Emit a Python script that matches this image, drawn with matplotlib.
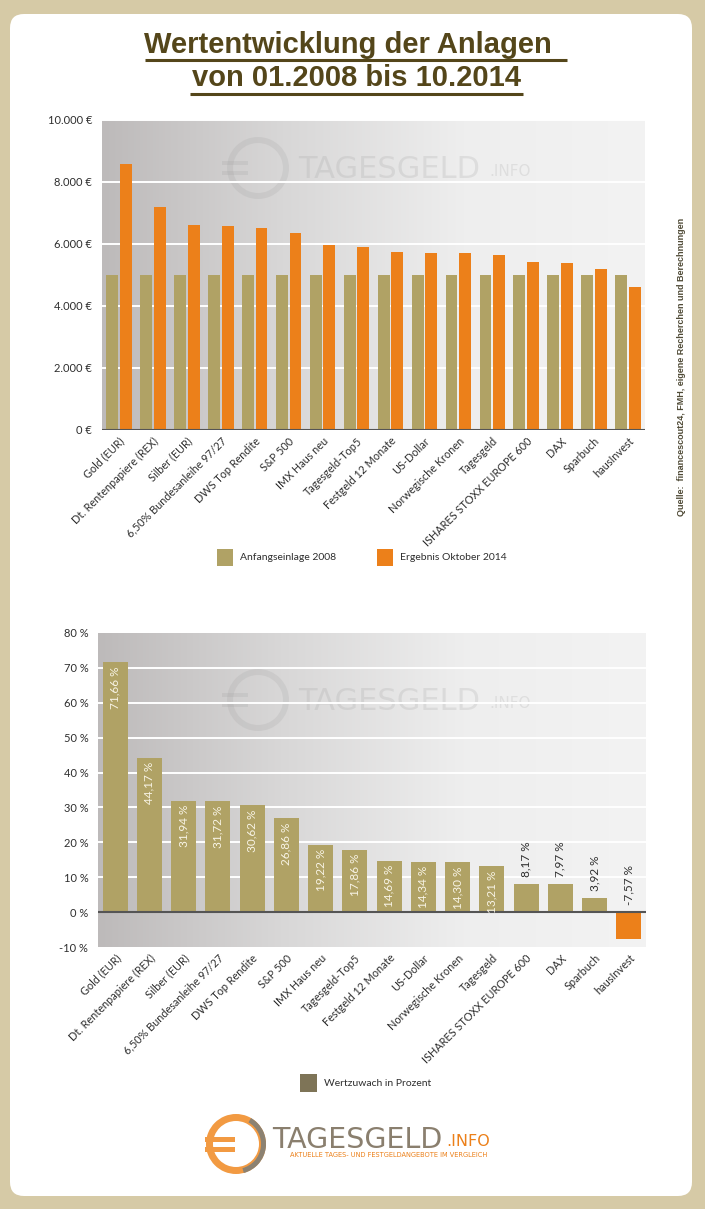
import matplotlib
matplotlib.use("Agg")
import matplotlib.pyplot as plt
import numpy as np
from matplotlib.patches import FancyBboxPatch, Rectangle, Wedge

# ---- data ----
categories = [
    "Gold (EUR)", "Dt. Rentenpapiere (REX)", "Silber (EUR)",
    "6,50% Bundesanleihe 97/27", "DWS Top Rendite", "S&P 500",
    "IMX Haus neu", "Tagesgeld-Top5", "Festgeld 12 Monate", "US-Dollar",
    "Norwegische Kronen", "Tagesgeld", "ISHARES STOXX EUROPE 600", "DAX",
    "Sparbuch", "hausInvest",
]
start_2008 = [5000] * 16
result_2014 = [8583, 7209, 6597, 6586, 6531, 6343, 5961, 5893,
               5735, 5717, 5715, 5661, 5409, 5399, 5196, 4622]
gain_pct = [71.66, 44.17, 31.94, 31.72, 30.62, 26.86, 19.22, 17.86,
            14.69, 14.34, 14.30, 13.21, 8.17, 7.97, 3.92, -7.57]

top_ticks = [0, 2000, 4000, 6000, 8000, 10000]
top_ticklabels = ["0 €", "2.000 €", "4.000 €", "6.000 €", "8.000 €", "10.000 €"]
bot_ticks = [-10, 0, 10, 20, 30, 40, 50, 60, 70, 80]
bot_ticklabels = ["%d %%" % t for t in bot_ticks]

# ---- style ----
BEIGE = "#b0a265"
ORANGE = "#ec801a"
BORDER = "#d6caa6"
TITLE_C = "#54461a"
TXT = "#2e2e2e"
SANS = ["Lato", "DejaVu Sans"]

W, H = 705, 1209
fig = plt.figure(figsize=(W / 100, H / 100), dpi=100)
fig.patch.set_facecolor(BORDER)

# pixel-space background layer
bg = fig.add_axes([0, 0, 1, 1], zorder=-5)
bg.set_xlim(0, W)
bg.set_ylim(H, 0)
bg.axis("off")
bg.add_patch(FancyBboxPatch((10, 14), 682, 1182,
                            boxstyle="round,pad=0,rounding_size=14",
                            fc="white", ec="none"))


def px_axes(left, top, right, bottom):
    return fig.add_axes([left / W, 1 - bottom / H, (right - left) / W, (bottom - top) / H])


def gradient(ax):
    g = np.linspace(0, 1, 256).reshape(1, -1)
    cmap = matplotlib.colors.LinearSegmentedColormap.from_list(
        "bgg", ["#bdbaba", "#d8d7d7", "#eeeeee", "#f3f3f3"])
    ax.imshow(g, extent=[0, 1, 0, 1], transform=ax.transAxes, aspect="auto",
              cmap=cmap, zorder=0, interpolation="bicubic")


def watermark(ax, cx, cy):
    t = bg.transData
    ax.add_patch(Wedge((cx, cy), 31, 0, 360, width=6, fc="#9a9a9a", ec="none",
                       alpha=0.18, transform=t, zorder=1, clip_on=False))
    for dy in (-5, 5):
        ax.add_patch(Rectangle((cx - 36, cy + dy - 2), 26, 4, fc="#9a9a9a", alpha=0.18,
                               transform=t, zorder=1, clip_on=False))
    ax.text(cx + 40, cy + 1, "TAGESGELD", transform=t, fontsize=22, color="#9a9a9a",
            alpha=0.2, va="center", ha="left", zorder=1, family="DejaVu Sans")
    ax.text(cx + 231, cy + 4, ".INFO", transform=t, fontsize=11, color="#9a9a9a",
            alpha=0.2, va="center", ha="left", zorder=1, family="DejaVu Sans")


def style_axes(ax):
    for s in ax.spines.values():
        s.set_visible(False)
    ax.tick_params(length=0)
    ax.set_xlim(-0.5, len(categories) - 0.5)
    ax.set_xticks(np.arange(len(categories)))
    ax.set_xticklabels(categories, rotation=45, ha="right", rotation_mode="anchor",
                       fontsize=7.8, color=TXT, family=SANS)
    for lab in ax.get_yticklabels():
        lab.set_family(SANS)
    ax.tick_params(axis="y", pad=7, labelsize=8, labelcolor=TXT)
    ax.tick_params(axis="x", pad=4)


x = np.arange(len(categories))

# ---- top chart ----
ax1 = px_axes(102, 120, 645, 430)
gradient(ax1)
watermark(ax1, 258, 168)
ax1.set_ylim(0, 10000)
ax1.set_yticks(top_ticks)
ax1.set_yticklabels(top_ticklabels)
for t in top_ticks[1:]:
    ax1.axhline(t, color="white", lw=1.4, zorder=1.5)
ax1.bar(x - 0.2, start_2008, width=0.35, color=BEIGE, zorder=2)
ax1.bar(x + 0.2, result_2014, width=0.35, color=ORANGE, zorder=2)
ax1.axhline(0, color="#555555", lw=1.5, zorder=3)
style_axes(ax1)

# ---- bottom chart ----
ax2 = px_axes(98, 633, 646, 947)
gradient(ax2)
watermark(ax2, 258, 700)
ax2.set_ylim(-10, 80)
ax2.set_yticks(bot_ticks)
ax2.set_yticklabels(bot_ticklabels)
for t in bot_ticks[2:-1]:
    ax2.axhline(t, color="white", lw=1.4, zorder=1.5)
colors = [BEIGE if v >= 0 else ORANGE for v in gain_pct]
ax2.bar(x, gain_pct, width=0.73, color=colors, zorder=2)
ax2.axhline(0, color="#555555", lw=1.5, zorder=3)
style_axes(ax2)

for xi, v in zip(x, gain_pct):
    lab = ("%.2f %%" % v).replace(".", ",")
    if v > 10:
        ax2.annotate(lab, (xi, v), xytext=(0, -3), textcoords="offset points",
                     rotation=90, ha="center", va="top", color="#f8f4e6",
                     fontsize=8.5, family=SANS, zorder=4)
    else:
        ax2.annotate(lab, (xi, max(v, 0)), xytext=(0, 5), textcoords="offset points",
                     rotation=90, ha="center", va="bottom", color=TXT,
                     fontsize=8.5, family=SANS, zorder=4)

# ---- overlay: title, legends, source, logo ----
fg = fig.add_axes([0, 0, 1, 1], zorder=10)
fg.set_xlim(0, W)
fg.set_ylim(H, 0)
fg.axis("off")
fg.patch.set_alpha(0)

tfam = ["Liberation Sans Narrow", "Liberation Sans"]
fg.text(352, 45, "Wertentwicklung der Anlagen ", ha="center", va="center",
        fontsize=21, fontweight="bold", color=TITLE_C, family=tfam)
fg.text(356, 78, "von 01.2008 bis 10.2014", ha="center", va="center",
        fontsize=21, fontweight="bold", color=TITLE_C, family=tfam)
fg.plot([145, 567], [60, 60], color=TITLE_C, lw=2.2, solid_capstyle="butt")
fg.plot([190, 523], [94, 94], color=TITLE_C, lw=2.2, solid_capstyle="butt")

# legend top
fg.add_patch(Rectangle((217, 549), 16, 17, fc=BEIGE, ec="none"))
fg.text(240, 558, "Anfangseinlage 2008", va="center", fontsize=7.5, color=TXT, family=SANS)
fg.add_patch(Rectangle((377, 549), 16, 17, fc=ORANGE, ec="none"))
fg.text(400, 558, "Ergebnis Oktober 2014", va="center", fontsize=7.5, color=TXT, family=SANS)

# legend bottom
fg.add_patch(Rectangle((300, 1074), 17, 18, fc="#7e7457", ec="none"))
fg.text(324, 1083, "Wertzuwach in Prozent", va="center", fontsize=7.5, color=TXT, family=SANS)

# source
fg.text(682, 367, "Quelle:  financescout24, FMH, eigene Recherchen und Berechnungen",
        rotation=90, ha="center", va="center", fontsize=6.5, fontweight="bold",
        color="#4f4a36", family=["Liberation Sans", "DejaVu Sans"])

# logo
fg.add_patch(Wedge((236, 1144), 30, 0, 360, width=7, fc="#f29a42", ec="none"))
fg.add_patch(Wedge((236, 1144), 30, -60, 75, width=5, fc="#8c8272", ec="none"))
for dy in (-5, 5):
    fg.add_patch(Rectangle((205, 1144 + dy - 2.5), 30, 5, fc="#f29a42", ec="none"))
fg.text(272, 1140, "TAGESGELD", ha="left", va="center", fontsize=20.5,
        color="#8a7f6e", family="DejaVu Sans")
fg.text(446, 1142, ".INFO", ha="left", va="center", fontsize=11.5,
        color=ORANGE, family="DejaVu Sans")
fg.text(290, 1155, "AKTUELLE TAGES- UND FESTGELDANGEBOTE IM VERGLEICH", ha="left",
        va="center", fontsize=4.8, color=ORANGE, family="DejaVu Sans")

fig.savefig("out.png", dpi=100, facecolor=fig.get_facecolor())
